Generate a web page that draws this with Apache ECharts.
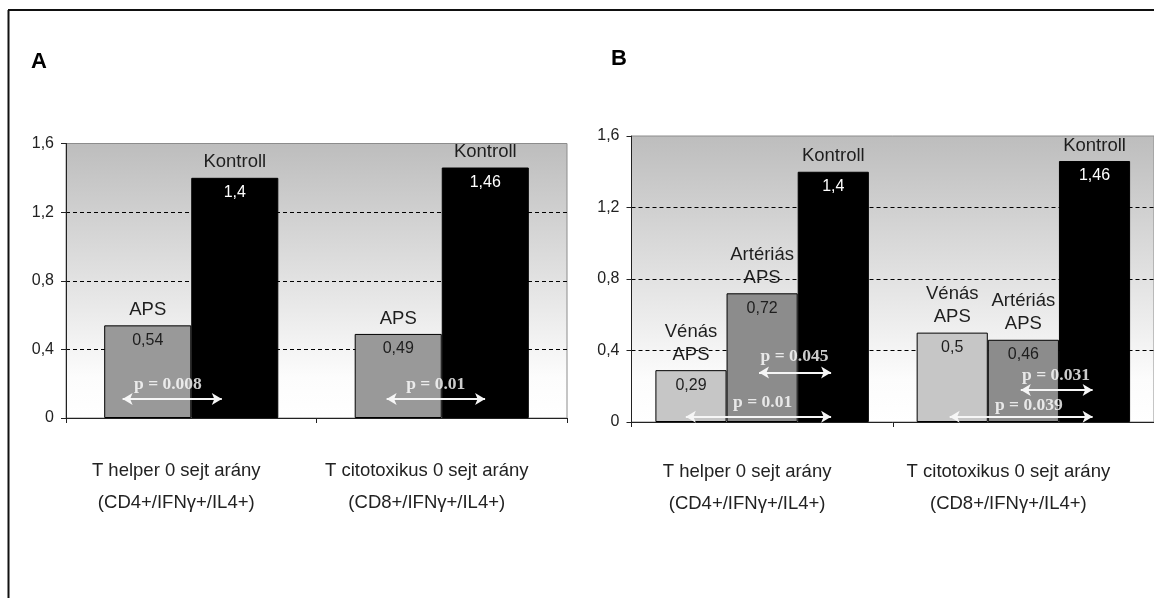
<!DOCTYPE html>
<html><head><meta charset="utf-8">
<script src="https://cdn.jsdelivr.net/npm/echarts@6/dist/echarts.min.js"></script>
<style>html,body{margin:0;padding:0;background:#fff}#c{width:1154px;height:598px}</style>
</head><body><div id="c"></div>
<script>
// ---- data ----
const categories = ['T helper 0 sejt arány\n(CD4+/IFNγ+/IL4+)', 'T citotoxikus 0 sejt arány\n(CD8+/IFNγ+/IL4+)'];
const namesA = ['APS', 'Kontroll'];
const aAPS = [0.54, 0.49];
const aKontroll = [1.4, 1.46];
const namesB = ['Vénás\nAPS', 'Artériás\nAPS', 'Kontroll'];
const bVenas = [0.29, 0.5];
const bArterias = [0.72, 0.46];
const bKontroll = [1.4, 1.46];
const yTickLabels = ['0', '0,4', '0,8', '1,2', '1,6'];
const pTextsA = ['p = 0.008', 'p = 0.01'];
const pTextsB = ['p = 0.045', 'p = 0.01', 'p = 0.031', 'p = 0.039'];
// annotation anchors in data units (x: 0..2 across the two categories, y: axis value)
const arrowsA = [[0.226, 0.622, 0.111], [1.280, 1.673, 0.111]];
const pPosA = [[0.407, 0.196], [1.476, 0.196]];
const arrowsB = [[0.488, 0.764, 0.277], [0.208, 0.764, 0.030], [1.490, 1.765, 0.179], [1.218, 1.765, 0.030]];
const pPosB = [[0.624, 0.364], [0.502, 0.108], [1.625, 0.263], [1.521, 0.091]];

// ---- styling ----
const FONT = "'Liberation Sans', Arial, sans-serif";
const fmt = v => String(v).replace('.', ',');
const bgGrad = {type: 'linear', x: 0, y: 0, x2: 0, y2: 1,
  colorStops: [{offset: 0, color: '#bdbdbd'}, {offset: 0.85, color: '#fcfcfc'}, {offset: 1, color: '#ffffff'}]};

function barLabel(name, valueColor) {
  const nameLines = name.split('\n').map(s => '{n|' + s + '}').join('\n');
  return {
    show: true, position: 'top', distance: 5, offset: [0, 39],
    formatter: p => nameLines + '\n{v|' + fmt(p.value) + '}',
    rich: {
      n: {fontSize: 18.5, lineHeight: 23, color: '#1e1e1e', fontFamily: FONT},
      v: {fontSize: 16, lineHeight: 38, color: valueColor, fontFamily: FONT}
    }
  };
}
function barSeries(name, data, color, xi, yi, valueColor) {
  return {type: 'bar', name: name, data: data, xAxisIndex: xi, yAxisIndex: yi,
    itemStyle: {color: color, borderColor: '#000', borderWidth: 1},
    label: barLabel(name, valueColor), silent: true};
}
function annot(arrows, pos, texts, xi, yi) {
  return {type: 'scatter', xAxisIndex: xi, yAxisIndex: yi, symbolSize: 0, z: 10, silent: true,
    data: pos.map((p, i) => ({value: [p[0], p[1]], label: {formatter: texts[i]}})),
    label: {show: true, position: 'inside', color: '#fff', fontFamily: "'Liberation Serif', 'Times New Roman', serif",
      fontWeight: 'bold', fontSize: 17.5},
    markLine: {silent: true, symbol: ['arrow', 'arrow'], symbolSize: [9, 10], label: {show: false},
      lineStyle: {color: '#f6f6f6', width: 2, type: 'solid'},
      emphasis: {disabled: true},
      data: arrows.map(a => [{coord: [a[0], a[2]]}, {coord: [a[1], a[2]]}])}
  };
}
function catAxis(gi, margin) {
  return {type: 'category', gridIndex: gi, data: categories,
    axisLine: {show: true, lineStyle: {color: '#222', width: 1}},
    axisTick: {show: true, length: 5, lineStyle: {color: '#222'}},
    axisLabel: {interval: 0, fontSize: 18.5, lineHeight: 32, margin: margin, color: '#222', fontFamily: FONT,
      padding: [0, 30, 0, 0]}};
}
function valAxis(gi) {
  return {type: 'value', gridIndex: gi, min: 0, max: 1.6, interval: 0.4,
    axisLine: {show: true, lineStyle: {color: '#222', width: 1}},
    axisTick: {show: true, length: 5, lineStyle: {color: '#222'}},
    axisLabel: {fontSize: 16, margin: 12, color: '#222', fontFamily: FONT,
      formatter: v => yTickLabels[Math.round(v / 0.4)]},
    splitLine: {show: true, showMinLine: false, showMaxLine: false,
      lineStyle: {color: '#000', type: [4, 3], width: 1}}};
}

const chart = echarts.init(document.getElementById('c'), null, {renderer: 'canvas'});
chart.setOption({
  animation: false,
  backgroundColor: '#ffffff',
  textStyle: {fontFamily: FONT},
  grid: [
    {left: 66, top: 143.5, width: 501, height: 274.5, show: true, backgroundColor: bgGrad, borderColor: '#8c8c8c', borderWidth: 1},
    {left: 631.5, top: 136, width: 524.4, height: 286, show: true, backgroundColor: bgGrad, borderColor: '#8c8c8c', borderWidth: 1}
  ],
  xAxis: [
    catAxis(0, 37), catAxis(1, 34),
    {type: 'value', gridIndex: 0, min: 0, max: 2, show: false},
    {type: 'value', gridIndex: 1, min: 0, max: 2, show: false}
  ],
  yAxis: [valAxis(0), valAxis(1)],
  series: [
    Object.assign(barSeries(namesA[0], aAPS, '#999999', 0, 0, '#1e1e1e'), {barGap: '0%', barCategoryGap: '30.5%'}),
    barSeries(namesA[1], aKontroll, '#000000', 0, 0, '#ffffff'),
    Object.assign(barSeries(namesB[0], bVenas, '#c6c6c6', 1, 1, '#1e1e1e'), {barGap: '0%', barCategoryGap: '18.3%'}),
    barSeries(namesB[1], bArterias, '#8c8c8c', 1, 1, '#1e1e1e'),
    barSeries(namesB[2], bKontroll, '#000000', 1, 1, '#ffffff'),
    annot(arrowsA, pPosA, pTextsA, 2, 0),
    annot(arrowsB, pPosB, pTextsB, 3, 1)
  ],
  graphic: [
    {type: 'line', shape: {x1: 8.5, y1: 10, x2: 8.5, y2: 598}, style: {stroke: '#111', lineWidth: 2}, silent: true},
    {type: 'line', shape: {x1: 8, y1: 10, x2: 1154, y2: 10}, style: {stroke: '#111', lineWidth: 2}, silent: true},
    {type: 'text', left: 31, top: 51, style: {text: 'A', font: "bold 22px 'Liberation Sans', Arial, sans-serif", fill: '#000'}, silent: true},
    {type: 'text', left: 611, top: 48, style: {text: 'B', font: "bold 22px 'Liberation Sans', Arial, sans-serif", fill: '#000'}, silent: true}
  ]
});
</script>
</body></html>
